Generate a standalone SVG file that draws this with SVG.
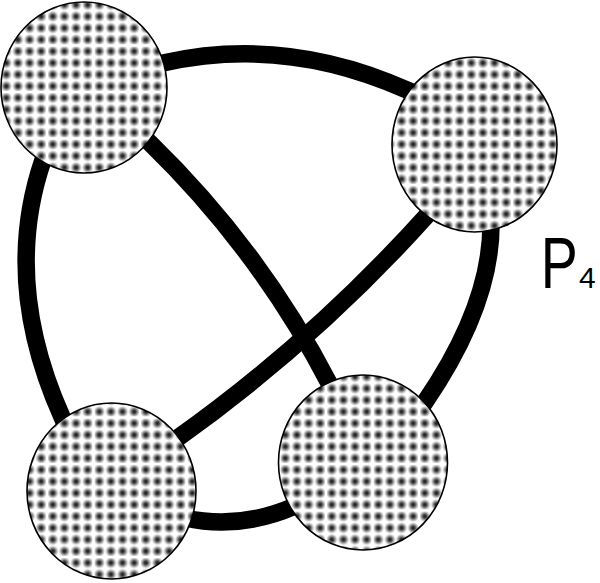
<svg xmlns="http://www.w3.org/2000/svg" width="600" height="583" viewBox="0 0 600 583">
  <defs>
    <radialGradient id="dotgrad" cx="0.5" cy="0.5" r="0.5">
      <stop offset="0" stop-color="#111111"/>
      <stop offset="0.3" stop-color="#404040"/>
      <stop offset="0.7" stop-color="#b8b8b8"/>
      <stop offset="1" stop-color="#ffffff"/>
    </radialGradient>
    <pattern id="dots" patternUnits="userSpaceOnUse" x="47" y="45.5" width="11.625" height="11.625">
      <rect width="11.625" height="11.625" fill="#ffffff"/>
      <circle cx="5.8125" cy="5.8125" r="5.8" fill="url(#dotgrad)"/>
    </pattern>
    <pattern id="grid" patternUnits="userSpaceOnUse" x="46" y="44.5" width="46.5" height="46.5">
      <rect x="0" y="0" width="46.5" height="2" fill="#ffffff"/>
      <rect x="0" y="0" width="2" height="46.5" fill="#ffffff"/>
    </pattern>
  </defs>
  <style>
    .edge { fill: none; stroke: #000000; stroke-width: 17.5; stroke-linecap: butt; stroke-linejoin: round; }
    .node-fill { fill: url(#dots); }
    .node-grid { fill: url(#grid); }
    .node-rim { fill: none; stroke: #000000; stroke-width: 1.6; }
    .lbl { font-family: "Liberation Sans", Arial, sans-serif; fill: #000000; }
  </style>
  <rect width="600" height="583" fill="#ffffff"/>

  <g id="connectors">
    <path class="edge" d="M 148 66 L 163 63 Q 285 35.5 407 90 L 421 96"/>
    <path class="edge" d="M 48 146 L 43 160 Q 1.5 281.5 62 417 L 68 431"/>
    <path class="edge" d="M 139 132.5 L 150 143 Q 260 250 330 385 L 337 398"/>
    <path class="edge" d="M 430 212 Q 313.5 342 175 440"/>
    <path class="edge" d="M 491 222 Q 492 304 425 402 L 416.5 414.4"/>
    <path class="edge" d="M 185 518 Q 240 530 295 506"/>
  </g>

  <g id="node-top-left">
    <ellipse class="node-fill" cx="84" cy="87.5" rx="83" ry="85.5"/>
    <ellipse class="node-grid" cx="84" cy="87.5" rx="83" ry="85.5"/>
    <ellipse class="node-rim" cx="84" cy="87.5" rx="83" ry="85.5"/>
  </g>
  <g id="node-top-right">
    <ellipse class="node-fill" cx="474.5" cy="144.5" rx="82.5" ry="87.5"/>
    <ellipse class="node-grid" cx="474.5" cy="144.5" rx="82.5" ry="87.5"/>
    <ellipse class="node-rim" cx="474.5" cy="144.5" rx="82.5" ry="87.5"/>
  </g>
  <g id="node-bottom-left">
    <ellipse class="node-fill" cx="111.5" cy="491" rx="84.5" ry="88"/>
    <ellipse class="node-grid" cx="111.5" cy="491" rx="84.5" ry="88"/>
    <ellipse class="node-rim" cx="111.5" cy="491" rx="84.5" ry="88"/>
  </g>
  <g id="node-bottom-right">
    <ellipse class="node-fill" cx="363" cy="462.5" rx="84.5" ry="87.5"/>
    <ellipse class="node-grid" cx="363" cy="462.5" rx="84.5" ry="87.5"/>
    <ellipse class="node-rim" cx="363" cy="462.5" rx="84.5" ry="87.5"/>
  </g>

  <g id="label">
    <text class="lbl" transform="translate(540.7,288) scale(0.77,1)" x="0" y="0" font-size="72">P</text>
    <text class="lbl" x="579" y="288" font-size="30">4</text>
  </g>
</svg>
